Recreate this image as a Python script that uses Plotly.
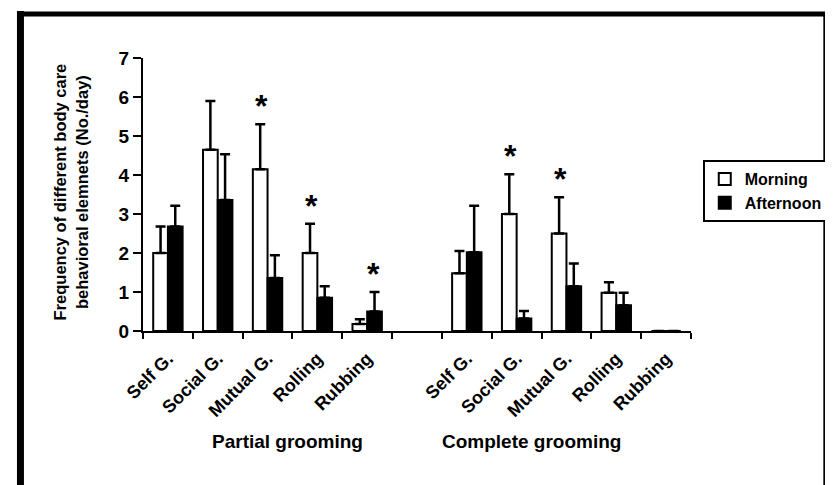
import plotly.graph_objects as go

# ---- data ----
categories = ["Self G.", "Social G.", "Mutual G.", "Rolling", "Rubbing", "",
              "Self G.", "Social G.", "Mutual G.", "Rolling", "Rubbing"]
morning = [2.0, 4.65, 4.15, 2.0, 0.18, None, 1.48, 3.0, 2.5, 0.98, 0]
morning_err = [0.68, 1.25, 1.15, 0.75, 0.12, None, 0.57, 1.02, 0.93, 0.27, None]
afternoon = [2.68, 3.36, 1.36, 0.85, 0.5, None, 2.02, 0.32, 1.15, 0.66, 0]
afternoon_err = [0.53, 1.17, 0.58, 0.30, 0.5, None, 1.19, 0.19, 0.58, 0.32, None]
morning_star = [False, False, True, True, False, False, False, True, True, False, False]
afternoon_star = [False, False, False, False, True, False, False, False, False, False, False]
groups = ["Partial grooming", "Complete grooming"]
group_pos = [2.41, 7.3]
yticks = [0, 1, 2, 3, 4, 5, 6, 7]
y_title = "Frequency of different body care<br>behavioral elemnets (No./day)"

FONT = "Arial, Liberation Sans, sans-serif"
xs = list(range(len(categories)))

# figure geometry
W, H = 833, 485
L, R, T, B = 135, 139, 50, 162
pw, ph = W - L - R, H - T - B
def px_x(p):
    return (p - L) / pw
def px_y(p):
    return (H - B - p) / ph

fig = go.Figure()
fig.add_trace(go.Bar(
    x=xs, y=morning, name="Morning",
    marker=dict(color="white", line=dict(color="black", width=2)),
    error_y=dict(type="data", array=morning_err, arrayminus=[0] * len(xs),
                 symmetric=False, color="black", thickness=2.5, width=5),
))
fig.add_trace(go.Bar(
    x=xs, y=afternoon, name="Afternoon",
    marker=dict(color="black", line=dict(color="black", width=2)),
    error_y=dict(type="data", array=afternoon_err, arrayminus=[0] * len(xs),
                 symmetric=False, color="black", thickness=2.5, width=5),
))

annotations = []
# significance stars
for i in xs:
    for vals, errs, stars, shift in ((morning, morning_err, morning_star, -6),
                                     (afternoon, afternoon_err, afternoon_star, 6)):
        if stars[i]:
            annotations.append(dict(
                x=i, y=vals[i] + errs[i], xref="x", yref="y", text="*",
                showarrow=False, xshift=shift, yshift=-2, yanchor="bottom",
                font=dict(family=FONT, size=32, color="black", weight=700)))
# group labels
for g, gx in zip(groups, group_pos):
    annotations.append(dict(
        x=gx, y=px_y(434), xref="x", yref="paper", text=g, showarrow=False,
        xanchor="center", yanchor="middle",
        font=dict(family=FONT, size=19, color="black", weight=700)))
# y title
annotations.append(dict(
    x=px_x(61), y=px_y(184), xref="paper", yref="paper", text=y_title,
    textangle=-90, showarrow=False, xanchor="center", yanchor="middle",
    font=dict(family=FONT, size=16.5, color="black", weight=700)))

shapes = [
    dict(type="line", xref="paper", yref="paper", x0=px_x(10), x1=px_x(10),
         y0=px_y(3), y1=px_y(481), line=dict(color="black", width=7)),
    dict(type="line", xref="paper", yref="paper", x0=px_x(8), x1=px_x(831),
         y0=px_y(6), y1=px_y(6), line=dict(color="black", width=5)),
    dict(type="line", xref="paper", yref="paper", x0=px_x(8), x1=px_x(831),
         y0=px_y(479), y1=px_y(479), line=dict(color="black", width=2)),
    dict(type="line", xref="paper", yref="paper", x0=px_x(830), x1=px_x(830),
         y0=px_y(4), y1=px_y(480), line=dict(color="black", width=2)),
]

fig.update_layout(
    width=W, height=H,
    margin=dict(l=L, r=R, t=T, b=B),
    paper_bgcolor="white", plot_bgcolor="white",
    barmode="group", bargap=0.41, bargroupgap=0,
    font=dict(family=FONT, color="black", weight=700),
    showlegend=True,
    legend=dict(x=px_x(706), y=px_y(152), xanchor="left", yanchor="top",
                bgcolor="white", bordercolor="black", borderwidth=2,
                font=dict(family=FONT, size=16, color="black", weight=700),
                itemwidth=30, tracegroupgap=0),
    xaxis=dict(range=[-0.5, len(xs) - 0.5], tickmode="array", tickvals=xs,
               ticktext=categories, tickangle=-45, ticks="",
               ticklabelstandoff=8,
               tickfont=dict(family=FONT, size=18, color="black", weight=700),
               showline=True, linecolor="black", linewidth=2, showgrid=False,
               zeroline=False,
               minor=dict(tickmode="array",
                          tickvals=[v - 0.5 for v in xs] + [len(xs) - 0.5],
                          ticks="outside", ticklen=6, tickwidth=2,
                          tickcolor="black", showgrid=False)),
    yaxis=dict(range=[0, 7], tickmode="array", tickvals=yticks,
               ticks="outside", ticklen=8, tickwidth=2, tickcolor="black",
               tickfont=dict(family=FONT, size=19, color="black", weight=700),
               showline=True, linecolor="black", linewidth=2, showgrid=False,
               zeroline=False),
    annotations=annotations,
    shapes=shapes,
)

fig.write_html("out.html")
